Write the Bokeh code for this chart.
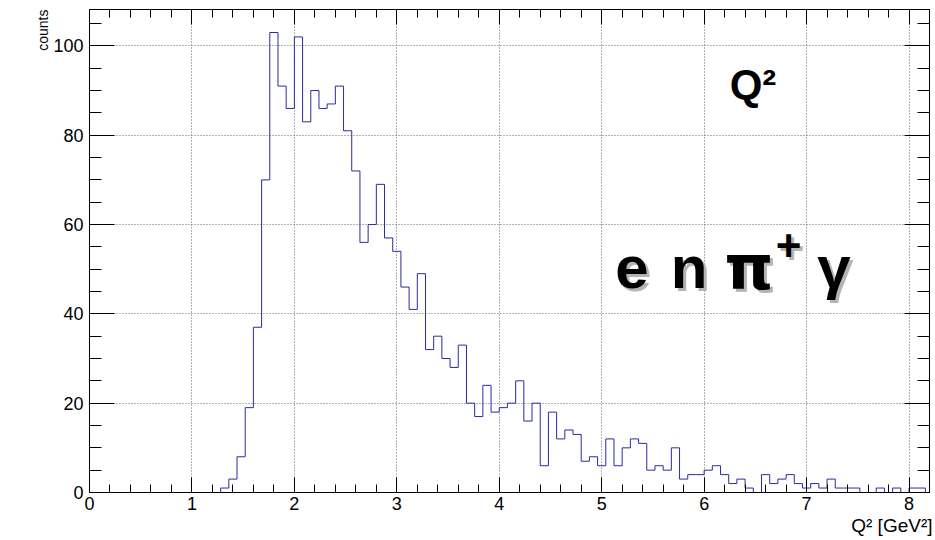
import numpy as np
from bokeh.plotting import figure
from bokeh.models import LinearAxis, SingleIntervalTicker, Range1d, Label, Grid, Title
from bokeh.embed import file_html
from bokeh.resources import INLINE

# Q^2 histogram, fixed-width bins starting at first_edge
bin_width = 0.08
first_edge = 1.20
counts = [
    0, 1, 3, 8, 19, 37, 70, 103, 91, 86,        # 1.20 - 1.92
    102, 83, 90, 86, 87, 91, 81, 72, 56, 60,    # 2.00 - 2.72
    69, 57, 54, 46, 41, 49, 32, 35, 30, 28,     # 2.80 - 3.52
    33, 20, 17, 24, 18, 19, 20, 25, 16, 20,     # 3.60 - 4.32
    6, 18, 12, 14, 13, 7, 8, 6, 12, 6,          # 4.40 - 5.12
    10, 12, 11, 5, 6, 5, 10, 3, 4, 4,           # 5.20 - 5.92
    5, 6, 4, 2, 3, 1, 0, 4, 2, 3,               # 6.00 - 6.72
    4, 2, 1, 2, 1, 3, 1, 1, 1, 0,               # 6.80 - 7.52
    0, 1, 0, 1, 0, 1, 1,                        # 7.60 - 8.08
]
x_range_max = 8.2
y_range_max = 108.15
x_tick_interval = 1
y_tick_interval = 20

FONT = "Liberation Sans"
HIST_COLOR = "#2b2b9e"

edges = first_edge + bin_width * np.arange(len(counts) + 1)
step_y = np.append(np.array(counts, dtype=float), 0.0)

p = figure(
    width=935, height=540,
    x_range=Range1d(0, x_range_max), y_range=Range1d(0, y_range_max),
    x_axis_type=None, y_axis_type=None,
    output_backend="svg", toolbar_location=None,
    min_border_left=89, min_border_right=6, min_border_top=9, min_border_bottom=48,
    background_fill_color="white", border_fill_color="white",
)
p.outline_line_color = "black"
p.outline_line_width = 1

x_ticker = SingleIntervalTicker(interval=x_tick_interval, num_minor_ticks=5)
y_ticker = SingleIntervalTicker(interval=y_tick_interval, num_minor_ticks=4)


def make_axis(ticker, major_len, minor_len, labels, standoff=5):
    ax = LinearAxis(ticker=ticker)
    ax.major_tick_in = major_len
    ax.major_tick_out = 0
    ax.minor_tick_in = minor_len
    ax.minor_tick_out = 0
    ax.axis_line_color = "black"
    ax.major_tick_line_color = "black"
    ax.minor_tick_line_color = "black"
    if labels:
        ax.major_label_text_font = FONT
        ax.major_label_text_font_size = "18px"
        ax.major_label_text_color = "black"
        ax.major_label_standoff = standoff
    else:
        # mirrored tick marks only, no numbers
        ax.major_label_text_color = None
        ax.major_label_text_font_size = "1px"
        ax.major_label_standoff = 0
    return ax


p.add_layout(make_axis(x_ticker, 15, 8, True, standoff=4), "below")
p.add_layout(make_axis(y_ticker, 25, 12, True, standoff=6), "left")
p.add_layout(make_axis(x_ticker, 15, 8, False), "above")
p.add_layout(make_axis(y_ticker, 25, 12, False), "right")

for dim, tk in ((0, x_ticker), (1, y_ticker)):
    p.add_layout(Grid(dimension=dim, ticker=tk, grid_line_color="#666666",
                      grid_line_dash="1 2", grid_line_width=1))

p.step(x=edges, y=step_y, mode="after", line_color=HIST_COLOR, line_width=1)

# axis titles, pushed to the far ends of the axes
p.add_layout(Title(text="Q² [GeV²]", align="right", text_font=FONT,
                   text_font_size="19px", text_font_style="normal",
                   text_color="black", standoff=0, offset=-3), "below")
p.add_layout(Title(text="counts", align="right", text_font=FONT,
                   text_font_size="14px", text_font_style="normal",
                   text_color="black", standoff=0), "left")

# in-frame captions
p.add_layout(Label(x=6.249, y=91.4, text="Q²", text_font=FONT,
                   text_font_style="bold", text_font_size="42px",
                   text_baseline="alphabetic", text_color="black"))

channel_parts = [
    ("e", 5.132, 50.45, FONT, "60px"),
    ("n", 5.674, 50.45, FONT, "60px"),
    ("π", 6.20, 50.45, "DejaVu Sans", "62px"),
    ("+", 6.699, 55.2, FONT, "44px"),
    ("γ", 7.104, 50.45, FONT, "60px"),
]
for color, dx, dy in (("#b4b4b4", 3, -3), ("black", 0, 0)):
    for txt, xx, yy, fnt, size in channel_parts:
        p.add_layout(Label(x=xx, y=yy, text=txt, x_offset=dx, y_offset=dy,
                           text_font=fnt, text_font_style="bold",
                           text_font_size=size, text_baseline="alphabetic",
                           text_color=color))

open("out.html", "w").write(file_html(p, INLINE))
